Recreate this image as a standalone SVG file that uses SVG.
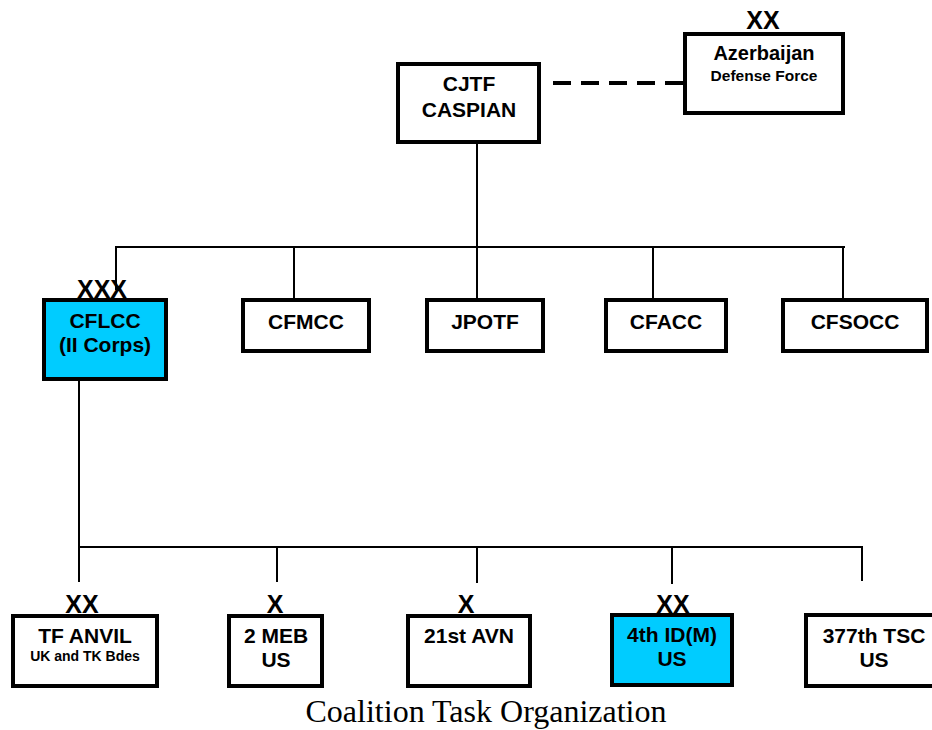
<svg xmlns="http://www.w3.org/2000/svg" width="932" height="730" viewBox="0 0 932 730">
<style>
.box{fill:#fff;stroke:#000;stroke-width:4}
.hl{fill:#00CCFF}
.t{font-family:"Liberation Sans",Arial,sans-serif;font-weight:bold;font-size:21px;text-anchor:middle;fill:#000}
.s{font-size:14px}
.ech{font-family:"Liberation Sans",Arial,sans-serif;font-weight:bold;font-size:25px;text-anchor:middle;fill:#000}
.ln{stroke:#000;stroke-width:2;fill:none}
.cap{font-family:"Liberation Serif","Times New Roman",serif;font-size:32px;text-anchor:middle;fill:#000}
</style>
<rect width="932" height="730" fill="#fff"/>
<g id="connectors">
<line class="ln" x1="477" y1="144" x2="477" y2="247"/>
<line class="ln" x1="116" y1="247" x2="845" y2="247"/>
<line class="ln" x1="116" y1="246" x2="116" y2="290"/>
<line class="ln" x1="294" y1="246" x2="294" y2="299"/>
<line class="ln" x1="477" y1="246" x2="477" y2="299"/>
<line class="ln" x1="653" y1="246" x2="653" y2="299"/>
<line class="ln" x1="843" y1="246" x2="843" y2="299"/>
<line class="ln" x1="79" y1="381" x2="79" y2="582"/>
<line class="ln" x1="79" y1="547" x2="862" y2="547"/>
<line class="ln" x1="277" y1="546" x2="277" y2="582"/>
<line class="ln" x1="477" y1="546" x2="477" y2="583"/>
<line class="ln" x1="672" y1="546" x2="672" y2="584"/>
<line class="ln" x1="862" y1="546" x2="862" y2="581"/>
<line x1="553" y1="83" x2="683" y2="83" stroke="#000" stroke-width="4" stroke-dasharray="18 10"/>
</g>
<g id="cjtf">
<rect class="box" x="398" y="64" width="141" height="78"/>
<text class="t" x="469" y="91">CJTF</text>
<text class="t" x="469" y="117">CASPIAN</text>
</g>
<g id="azerbaijan">
<rect class="box" x="685" y="34" width="158" height="79"/>
<text class="ech" x="763" y="29">XX</text>
<text class="t" x="764" y="60" style="font-size:20px">Azerbaijan</text>
<text class="t" x="764" y="81" style="font-size:15.5px">Defense Force</text>
</g>
<g id="cflcc">
<rect class="box hl" x="44" y="300" width="122" height="79"/>
<text class="ech" x="102" y="298">XXX</text>
<text class="t" x="105" y="328">CFLCC</text>
<text class="t" x="105" y="352">(II Corps)</text>
</g>
<g id="cfmcc">
<rect class="box" x="243" y="300" width="126" height="51"/>
<text class="t" x="306" y="329">CFMCC</text>
</g>
<g id="jpotf">
<rect class="box" x="427" y="300" width="116" height="51"/>
<text class="t" x="485" y="329">JPOTF</text>
</g>
<g id="cfacc">
<rect class="box" x="606" y="300" width="120" height="51"/>
<text class="t" x="666" y="329">CFACC</text>
</g>
<g id="cfsocc">
<rect class="box" x="783" y="300" width="144" height="51"/>
<text class="t" x="855" y="329">CFSOCC</text>
</g>
<g id="tfanvil">
<rect class="box" x="13" y="616" width="144" height="70"/>
<text class="ech" x="82" y="613">XX</text>
<text class="t" x="85" y="643">TF ANVIL</text>
<text class="t s" x="85" y="661">UK and TK Bdes</text>
</g>
<g id="meb">
<rect class="box" x="229" y="616" width="93" height="70"/>
<text class="ech" x="275" y="613">X</text>
<text class="t" x="276" y="643">2 MEB</text>
<text class="t" x="276" y="667">US</text>
</g>
<g id="avn">
<rect class="box" x="408" y="616" width="122" height="70"/>
<text class="ech" x="466" y="613">X</text>
<text class="t" x="469" y="643">21st AVN</text>
</g>
<g id="id4">
<rect class="box hl" x="612" y="615" width="120" height="70"/>
<text class="ech" x="673" y="613">XX</text>
<text class="t" x="672" y="642">4th ID(M)</text>
<text class="t" x="672" y="666">US</text>
</g>
<g id="tsc">
<rect class="box" x="806" y="615" width="136" height="71"/>
<text class="t" x="874" y="643">377th TSC</text>
<text class="t" x="874" y="667">US</text>
</g>
<text class="cap" x="486" y="722">Coalition Task Organization</text>
</svg>
